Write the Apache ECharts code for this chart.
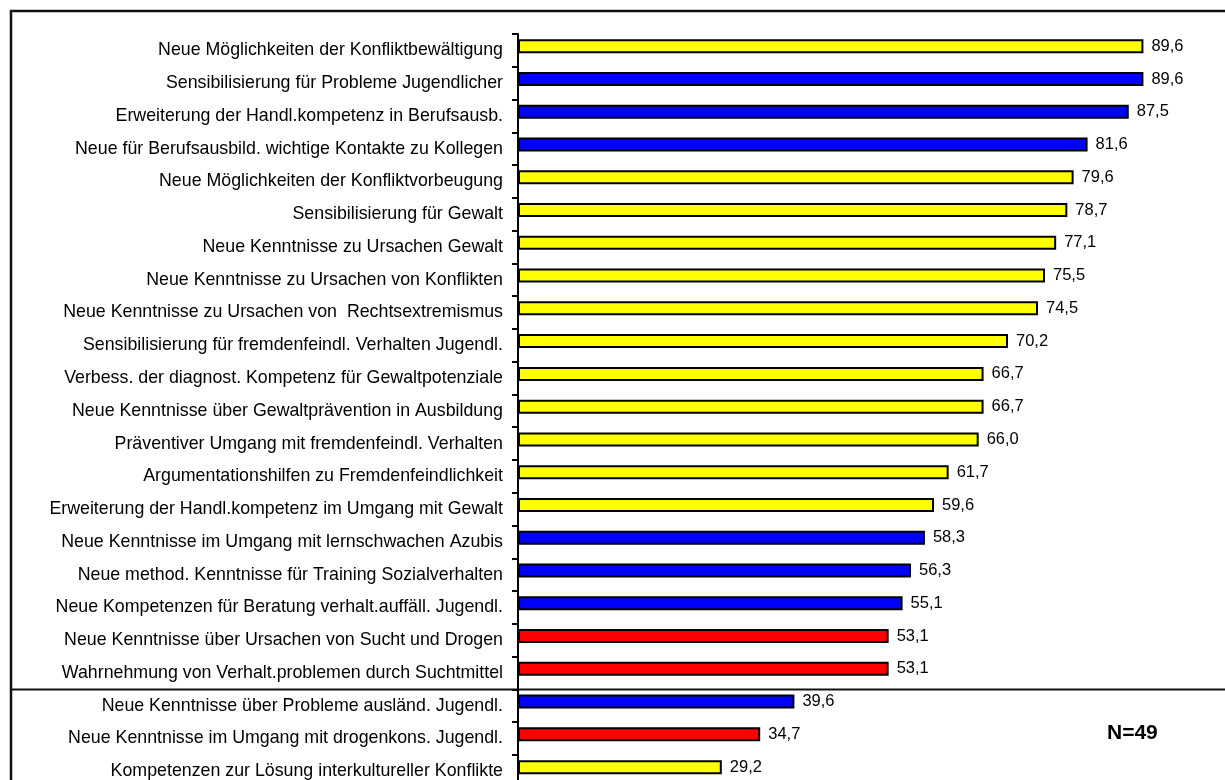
<!DOCTYPE html>
<html>
<head>
<meta charset="utf-8">
<script src="https://cdn.jsdelivr.net/npm/echarts@6/dist/echarts.min.js"></script>
<style>
  html, body { margin: 0; padding: 0; background: #fff; }
  #chart { width: 1225px; height: 780px; }
</style>
</head>
<body>
<div id="chart"></div>
<script>
// Statements, top to bottom
const categories = [
  'Neue Möglichkeiten der Konfliktbewältigung',
  'Sensibilisierung für Probleme Jugendlicher',
  'Erweiterung der Handl.kompetenz in Berufsausb.',
  'Neue für Berufsausbild. wichtige Kontakte zu Kollegen',
  'Neue Möglichkeiten der Konfliktvorbeugung',
  'Sensibilisierung für Gewalt',
  'Neue Kenntnisse zu Ursachen Gewalt',
  'Neue Kenntnisse zu Ursachen von Konflikten',
  'Neue Kenntnisse zu Ursachen von  Rechtsextremismus',
  'Sensibilisierung für fremdenfeindl. Verhalten Jugendl.',
  'Verbess. der diagnost. Kompetenz für Gewaltpotenziale',
  'Neue Kenntnisse über Gewaltprävention in Ausbildung',
  'Präventiver Umgang mit fremdenfeindl. Verhalten',
  'Argumentationshilfen zu Fremdenfeindlichkeit',
  'Erweiterung der Handl.kompetenz im Umgang mit Gewalt',
  'Neue Kenntnisse im Umgang mit lernschwachen Azubis',
  'Neue method. Kenntnisse für Training Sozialverhalten',
  'Neue Kompetenzen für Beratung verhalt.auffäll. Jugendl.',
  'Neue Kenntnisse über Ursachen von Sucht und Drogen',
  'Wahrnehmung von Verhalt.problemen durch Suchtmittel',
  'Neue Kenntnisse über Probleme ausländ. Jugendl.',
  'Neue Kenntnisse im Umgang mit drogenkons. Jugendl.',
  'Kompetenzen zur Lösung interkultureller Konflikte'
];

// Share of agreement in percent
const values = [
  89.6, 89.6, 87.5, 81.6, 79.6, 78.7, 77.1, 75.5, 74.5, 70.2,
  66.7, 66.7, 66.0, 61.7, 59.6, 58.3, 56.3, 55.1, 53.1, 53.1,
  39.6, 34.7, 29.2
];

// Topic group of each statement
const groups = [
  'gewalt', 'ausbildung', 'ausbildung', 'ausbildung', 'gewalt', 'gewalt', 'gewalt', 'gewalt', 'gewalt', 'gewalt',
  'gewalt', 'gewalt', 'gewalt', 'gewalt', 'gewalt', 'ausbildung', 'ausbildung', 'ausbildung', 'sucht', 'sucht',
  'ausbildung', 'sucht', 'gewalt'
];

// Index of the first statement below the divider line
const dividerBefore = 20;

const sampleNote = 'N=49';

const groupColors = { gewalt: '#FFFF00', ausbildung: '#0000FF', sucht: '#FF0000' };
const FONT = 'Liberation Sans, Arial, sans-serif';

const chart = echarts.init(document.getElementById('chart'), null, { renderer: 'canvas' });

const bandCount = categories.length;
const bandSize = 32.77;
const plotHeight = bandCount * bandSize;

const option = {
  animation: false,
  backgroundColor: '#fff',
  grid: [
    // bars sit slightly above the centre of their band
    { left: 518, top: 29.8, width: 698, height: plotHeight, containLabel: false, outerBoundsMode: 'none' },
    // axis line, ticks and category labels
    { left: 518, top: 34, width: 698, height: plotHeight, containLabel: false, outerBoundsMode: 'none' }
  ],
  xAxis: [
    { gridIndex: 0, type: 'value', min: 0, max: 100, show: false },
    { gridIndex: 1, type: 'value', min: 0, max: 100, show: false }
  ],
  yAxis: [
    { gridIndex: 0, type: 'category', data: categories, inverse: true, show: false },
    {
      gridIndex: 1, type: 'category', data: categories, inverse: true,
      axisLine: { show: true, lineStyle: { color: '#000', width: 2 } },
      axisTick: { show: true, length: 6, lineStyle: { color: '#000', width: 2 } },
      axisLabel: { interval: 0, margin: 15, fontSize: 17.8, color: '#000', fontFamily: FONT },
      splitLine: { show: false }
    }
  ],
  series: [{
    type: 'bar',
    xAxisIndex: 0,
    yAxisIndex: 0,
    barWidth: 14,
    data: values.map((v, i) => ({
      value: v,
      itemStyle: { color: groupColors[groups[i]] }
    })),
    itemStyle: { borderColor: '#000', borderWidth: 2 },
    label: {
      show: true,
      position: 'right',
      distance: 8,
      color: '#000',
      fontSize: 16.5,
      fontFamily: FONT,
      formatter: p => p.value.toFixed(1).replace('.', ',')
    }
  }]
};

chart.setOption(option);

// Divider between the two blocks of statements, on the band boundary
const yA = chart.convertToPixel({ yAxisIndex: 1 }, categories[dividerBefore - 1]);
const yB = chart.convertToPixel({ yAxisIndex: 1 }, categories[dividerBefore]);
const dividerY = (yA + yB) / 2;

chart.setOption({
  graphic: [
    {
      type: 'rect',
      shape: { x: 11, y: 11, width: 1400, height: 1000 },
      style: { fill: 'none', stroke: '#111', lineWidth: 2.5 },
      silent: true
    },
    {
      type: 'line',
      shape: { x1: 11, y1: dividerY, x2: 1225, y2: dividerY },
      style: { stroke: '#111', lineWidth: 2 },
      silent: true
    },
    {
      type: 'text',
      x: 1107,
      y: 733,
      style: {
        text: sampleNote,
        font: 'bold 21px ' + FONT,
        fill: '#000',
        verticalAlign: 'middle',
        align: 'left'
      },
      silent: true
    }
  ]
});
</script>
</body>
</html>
